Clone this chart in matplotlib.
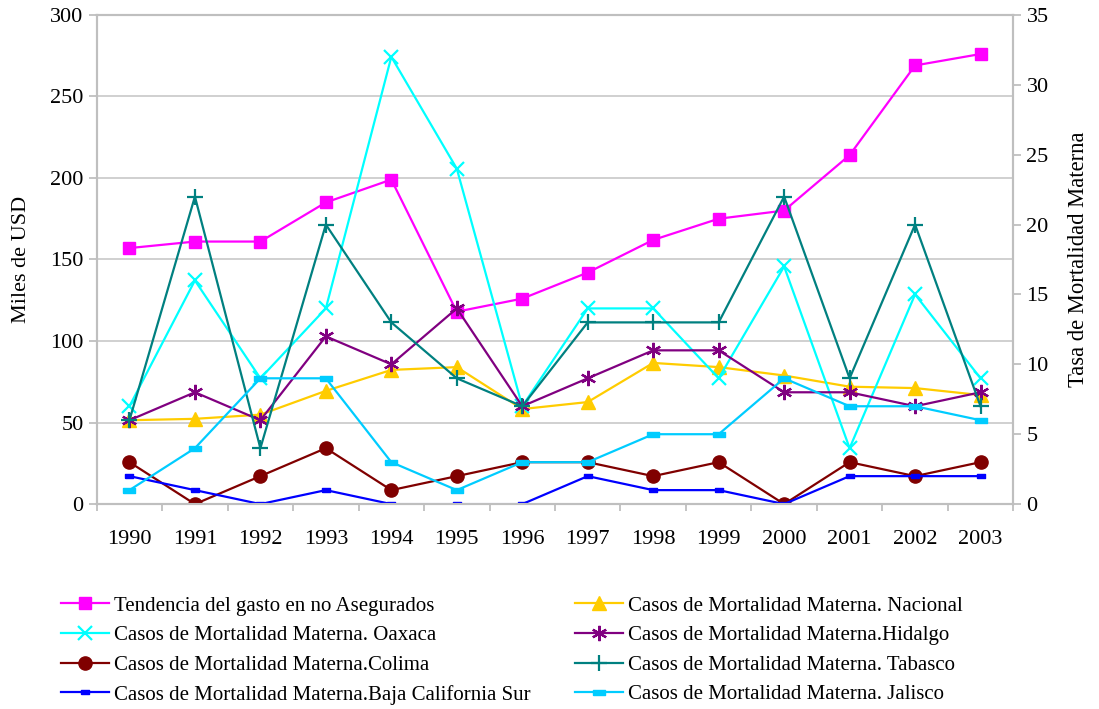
import numpy as np
import matplotlib
matplotlib.use("Agg")
import matplotlib.pyplot as plt

plt.rcParams['font.family'] = ['Liberation Serif', 'DejaVu Serif']

anios = ['1990', '1991', '1992', '1993', '1994', '1995', '1996',
         '1997', '1998', '1999', '2000', '2001', '2002', '2003']

# Miles de USD (eje izquierdo)
gasto = [157, 161, 161, 185, 199, 118, 126, 142, 162, 175, 180, 214, 269, 276]

# Tasa de mortalidad materna (eje derecho)
nacional = [6.0, 6.1, 6.4, 8.1, 9.6, 9.8, 6.8, 7.3, 10.1, 9.8, 9.2, 8.4, 8.3, 7.8]
oaxaca = [7, 16, 9, 14, 32, 24, 7, 14, 14, 9, 17, 4, 15, 9]
hidalgo = [6, 8, 6, 12, 10, 14, 7, 9, 11, 11, 8, 8, 7, 8]
colima = [3, 0, 2, 4, 1, 2, 3, 3, 2, 3, 0, 3, 2, 3]
tabasco = [6, 22, 4, 20, 13, 9, 7, 13, 13, 13, 22, 9, 20, 7]
baja_cs = [2, 1, 0, 1, 0, 0, 0, 2, 1, 1, 0, 2, 2, 2]
jalisco = [1, 4, 9, 9, 3, 1, 3, 3, 5, 5, 9, 7, 7, 6]

x = np.arange(len(anios))
gris = '#bfbfbf'

# marcadores rectangulares tipo Excel
rect_chico = [(-1, -0.45), (1, -0.45), (1, 0.45), (-1, 0.45), (-1, -0.45)]
rect_ancho = [(-1, -0.4), (1, -0.4), (1, 0.4), (-1, 0.4), (-1, -0.4)]

fig = plt.figure(figsize=(10.99, 7.09), dpi=100)
ax = fig.add_axes([0.088, 0.289, 0.834, 0.69])
ax2 = ax.twinx()

ax.plot(x, gasto, color='#ff00ff', lw=1.6, marker='s', ms=9, zorder=3)

ax2.plot(x, nacional, color='#ffcc00', lw=1.6, marker='^', ms=10)
ax2.plot(x, oaxaca, color='#00ffff', lw=1.6, marker='x', ms=10, mew=1.6)
ax2.plot(x, hidalgo, color='#800080', lw=1.6, marker=(6, 2, 0), ms=11, mew=1.6)
ax2.plot(x, colima, color='#800000', lw=1.6, marker='o', ms=9.5)
ax2.plot(x, tabasco, color='#008080', lw=1.6, marker='+', ms=11, mew=1.6)
ax2.plot(x, baja_cs, color='#0000ff', lw=1.6, marker=rect_chico, ms=6)
ax2.plot(x, jalisco, color='#00ccff', lw=1.6, marker=rect_ancho, ms=9)

ax.set_xlim(-0.5, len(anios) - 0.5)
ax.set_ylim(0, 300)
ax2.set_ylim(0, 35)
ax.set_yticks(np.arange(0, 301, 50))
ax2.set_yticks(np.arange(0, 36, 5))

ax.set_xticks(x)
ax.set_xticklabels(anios)
ax.set_xticks(np.arange(-0.5, len(anios), 1), minor=True)
ax.tick_params(axis='x', which='major', length=0, pad=19, labelsize=16)
ax.tick_params(axis='x', which='minor', length=5, color=gris, width=1.3)
ax.tick_params(axis='y', length=6, color=gris, width=1.3, labelsize=16)
ax2.tick_params(axis='y', length=6, color=gris, width=1.3, labelsize=16)

ax.grid(axis='y', color='#c8c8c8', lw=1.2)
ax.set_axisbelow(True)
for a in (ax, ax2):
    for s in a.spines.values():
        s.set_color(gris)
        s.set_linewidth(1.5)

ax.set_ylabel('Miles de USD', fontsize=16, labelpad=14)
ax2.set_ylabel('Tasa de Mortalidad Materna', fontsize=16.3, labelpad=14)

etiquetas = ['Tendencia del gasto en no Asegurados',
             'Casos de Mortalidad Materna. Oaxaca',
             'Casos de Mortalidad Materna.Colima',
             'Casos de Mortalidad Materna.Baja California Sur',
             'Casos de Mortalidad Materna. Nacional',
             'Casos de Mortalidad Materna.Hidalgo',
             'Casos de Mortalidad Materna. Tabasco',
             'Casos de Mortalidad Materna. Jalisco']
lineas = ax.get_lines() + ax2.get_lines()
# orden de columnas: izquierda y derecha
orden = [lineas[0], lineas[2], lineas[4], lineas[6],
         lineas[1], lineas[3], lineas[5], lineas[7]]
fig.legend(orden, etiquetas, loc='upper left', bbox_to_anchor=(0.048, 0.171),
           ncol=2, frameon=False, fontsize=15, handlelength=2.3,
           handletextpad=0.25, columnspacing=2.1, labelspacing=0.48,
           borderaxespad=0)

fig.savefig('out.png', dpi=100)
